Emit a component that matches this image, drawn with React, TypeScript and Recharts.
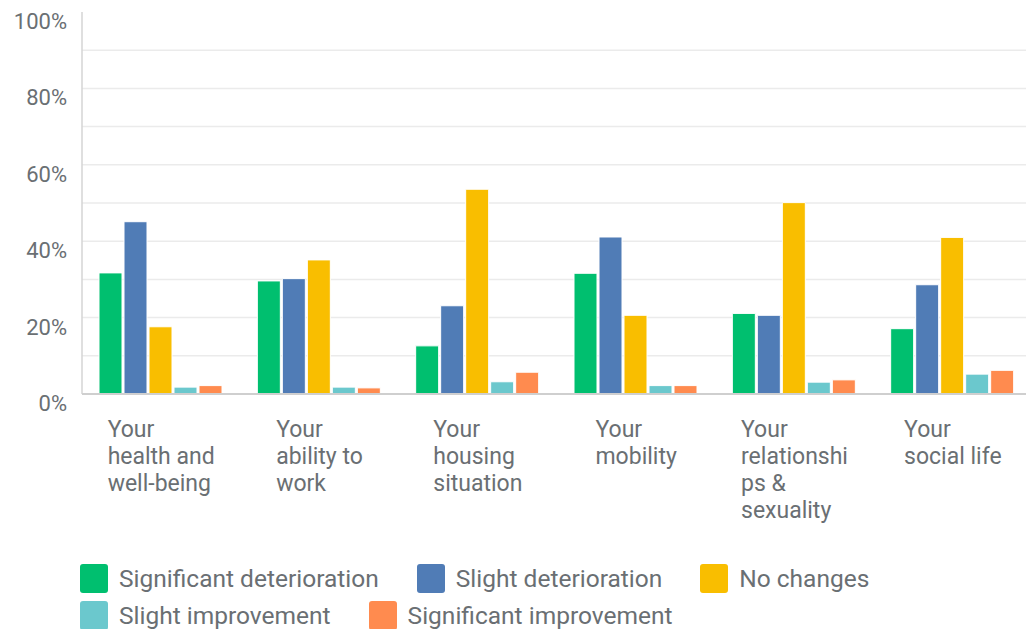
import React from "react";
import { BarChart, Bar, XAxis, YAxis, CartesianGrid, Legend } from "recharts";

const categories = [
  "Your health and well-being",
  "Your ability to work",
  "Your housing situation",
  "Your mobility",
  "Your relationships & sexuality",
  "Your social life",
];
const tickLines = [
  ["Your", "health and", "well-being"],
  ["Your", "ability to", "work"],
  ["Your", "housing", "situation"],
  ["Your", "mobility"],
  ["Your", "relationshi", "ps &", "sexuality"],
  ["Your", "social life"],
];
const significantDeterioration = [31.7, 29.6, 12.6, 31.6, 21.1, 17.1];
const slightDeterioration = [45.1, 30.2, 23.1, 41.1, 20.6, 28.6];
const noChanges = [17.6, 35.1, 53.6, 20.6, 50.1, 41.0];
const slightImprovement = [1.8, 1.8, 3.2, 2.2, 3.1, 5.2];
const significantImprovement = [2.2, 1.6, 5.7, 2.2, 3.7, 6.2];
const yTicks = [0, 10, 20, 30, 40, 50, 60, 70, 80, 90, 100];
const gridValues = [10, 20, 30, 40, 50, 60, 70, 80, 90];

const seriesList = [
  { key: "sigDet", name: "Significant deterioration", color: "#00BF6F", values: significantDeterioration },
  { key: "slDet", name: "Slight deterioration", color: "#507CB6", values: slightDeterioration },
  { key: "noCh", name: "No changes", color: "#F9BE00", values: noChanges },
  { key: "slImp", name: "Slight improvement", color: "#6BC8CD", values: slightImprovement },
  { key: "sigImp", name: "Significant improvement", color: "#FF8B4F", values: significantImprovement },
];

const data = categories.map((c, i) => {
  const row: any = { category: c, idx: i };
  seriesList.forEach((s) => (row[s.key] = s.values[i]));
  return row;
});

const FONT = "Roboto, 'Noto Sans', sans-serif";
const TEXT = "#6a6f73";

const YTick = (props: any) => {
  const { x, y, payload } = props;
  if (payload.value % 20 !== 0) return null;
  return (
    <text x={x} y={y} dy={17} textAnchor="end" fill={TEXT} fontSize={22} fontFamily={FONT}>
      {payload.value}%
    </text>
  );
};

const XTick = (props: any) => {
  const { x, y, index } = props;
  const lines = tickLines[index] || [];
  return (
    <foreignObject x={x - 85} y={y + 22} width={170} height={130}>
      <div style={{ textAlign: "center", fontFamily: FONT, fontSize: 23, lineHeight: "27px", color: TEXT }}>
        <div style={{ display: "inline-block", textAlign: "left" }}>
          {lines.map((l, i) => (
            <div key={i} style={{ whiteSpace: "nowrap" }}>{l}</div>
          ))}
        </div>
      </div>
    </foreignObject>
  );
};

const LegendContent = () => (
  <div style={{ display: "flex", flexWrap: "wrap", width: 900, fontFamily: FONT, fontSize: 24.5, color: TEXT }}>
    {seriesList.map((s) => (
      <div key={s.key} style={{ display: "flex", alignItems: "center", marginRight: 38, height: 37 }}>
        <div style={{ width: 28, height: 29, background: s.color, borderRadius: 3, marginRight: 11 }} />
        <span>{s.name}</span>
      </div>
    ))}
  </div>
);

export default function App() {
  return (
    <div style={{ position: "absolute", left: 0, top: 0, width: 1026, height: 629, overflow: "hidden", background: "#fff" }}>
      <BarChart
        width={1040}
        height={629}
        data={data}
        margin={{ top: 12, right: 8, left: 0, bottom: 0 }}
        barCategoryGap={17}
        barGap={2}
      >
        <CartesianGrid vertical={false} stroke="#ebebeb" strokeWidth={1.5} horizontalValues={gridValues} />
        <YAxis
          width={82}
          domain={[0, 100]}
          ticks={yTicks}
          interval={0}
          tickSize={0}
          tickMargin={15}
          tick={<YTick />}
          axisLine={{ stroke: "#d4d4d4", strokeWidth: 1.5 }}
          tickLine={false}
        />
        <XAxis
          dataKey="category"
          height={235}
          interval={0}
          tickSize={0}
          tickMargin={0}
          tick={<XTick />}
          axisLine={{ stroke: "#cfcfcf", strokeWidth: 2 }}
          tickLine={false}
        />
        <Legend
          layout="horizontal"
          verticalAlign="middle"
          align="center"
          content={<LegendContent />}
          wrapperStyle={{ left: 80, top: 560, width: 900 }}
        />
        {seriesList.map((s) => (
          <Bar key={s.key} dataKey={s.key} name={s.name} fill={s.color} stroke="#ffffff" strokeWidth={1} isAnimationActive={false} />
        ))}
      </BarChart>
    </div>
  );
}
